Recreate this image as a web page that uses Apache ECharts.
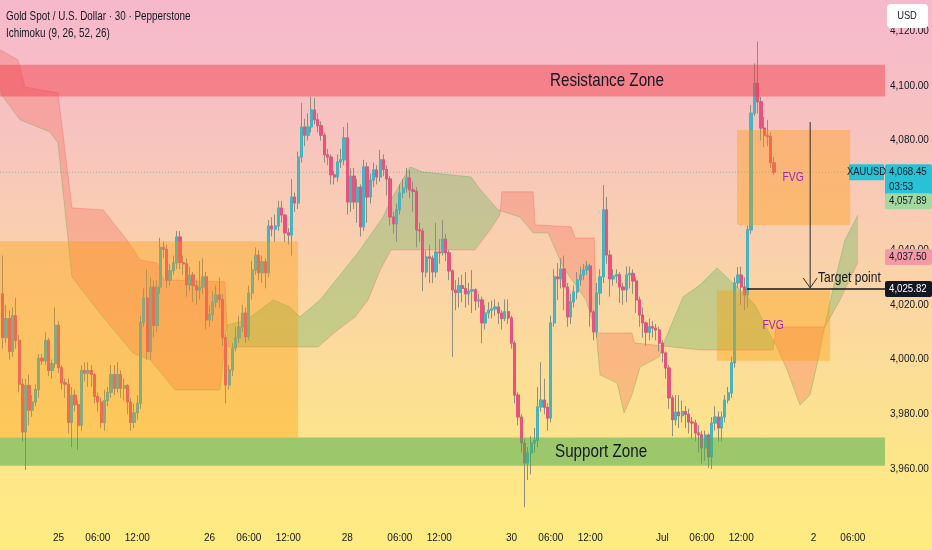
<!DOCTYPE html>
<html><head><meta charset="utf-8">
<script src="https://cdn.jsdelivr.net/npm/echarts@6/dist/echarts.min.js"></script>
<style>
html,body{margin:0;padding:0;overflow:hidden;}
#c{width:932px;height:550px;background:linear-gradient(to bottom,#f6b8cc 0%,#f7c1c2 20%,#f9cdb2 40%,#fbd99e 60%,#fde48c 80%,#ffec80 100%);}
</style></head><body><div id="c"></div>
<script>
// ---------- data ----------
const firstOpen = 4024;
const closes = [
4008,4015,4003,4016,4007,3991,3973.5,3990.5,3981.5,3984.5,
3989,4000.5,3999.5,4007,3996,3998.5,4012.5,3997,3991.5,3991,
3977,3987,3983.5,3976,3996,3995,3996,3994.5,3986.5,3984.5,
3977,3985,3988,3994.5,3989.5,3994.5,3989.5,3990.5,3984.5,3977,
3980.5,3984,4013.5,4022.5,4003,4026.5,4012.5,4026.5,4041,4040.3,
4029,4032.5,4035.3,4044.8,4035.5,4035,4027.3,4030.9,4027,4025.4,
4026.5,4030.2,4014.5,4016.5,4021,4023.6,4022,4008,3990.7,3996.2,
4004.2,4007.9,4011.9,4017,4008.3,4024.3,4032.7,4038.2,4031.7,4035.7,
4031.7,4048.8,4047.7,4048.8,4055.4,4052.8,4046.3,4045.5,4059.4,4057.2,
4074,4085,4082,4085,4091.2,4087.6,4085.5,4082,4074.8,4074,
4067.5,4066.7,4072.2,4073,4081,4057.6,4067,4057.6,4063,4048.5,
4070.4,4059.4,4065.6,4069.3,4066.7,4073,4069.5,4066,4052.1,4049.6,
4054.7,4060.9,4062.7,4066.4,4062,4061.5,4047.4,4047,4032,4037.5,
4037,4032,4039.3,4039,4044,4039,4032.4,4025.4,4024.5,4027,
4026,4024,4025,4025.5,4021.4,4021.8,4013.4,4017,4018,4018.5,
4019.2,4017,4015,4017.5,4015.2,4006,3987,3979,3969.5,3962.2,
3965.9,3969.5,3970.5,3982.7,3985.2,3982.5,3978.6,4013.4,4030.2,4029.5,
4033.1,4026.5,4015.6,4021.1,4024.7,4029.1,4030.9,4032.7,4034.2,4017.4,
4010.1,4024.3,4030.2,4054.7,4038.2,4029.5,4030.5,4031,4026.5,4025.5,
4030.9,4031.5,4028.7,4021.8,4016.3,4013.4,4010,4012,4011.5,4010.8,
4006,4002.4,3996.9,3986,3978,3980.8,3979.5,3981,3980,3977.2,
3976.8,3973.2,3972.5,3967.7,3972.4,3964.4,3976.8,3979,3975,3979,
3985.2,3987.8,3998.8,4028,4030.9,4026.5,4023.6,4047.4,4090,4101,
4094.2,4084.6,4082,4081.5,4071.9,4068.45];
const highs = [
4038,4020,4018,4019,4022.5,4009,3993,3993,3994.5,3987,
3991,4002,4002,4010,4008,4000,4019,4014,3998,3993,
3993,3990,3989,3985,3998,3999,3999,3998,3995,3988,
3986,3989,3990,3998,3998,3999,3996,3993,3991,3986,
3984,3987,4016,4026,4033,4030,4029,4029,4044.5,4043,
4042,4035,4038,4047,4047,4038,4037,4034,4032,4029,
4036,4037,4032,4020,4025,4027,4030,4024,4009,3998,
4006,4012,4016,4020,4019,4027,4036,4041,4040,4038,
4037,4051,4052,4053,4058,4058,4053,4048,4066,4061,
4076,4093.8,4088,4090,4096,4095.5,4090,4087,4083,4077,
4075,4069,4075,4077,4085,4086.5,4070,4070,4066,4064,
4073,4072,4068,4072,4071,4076.6,4075,4071,4067,4054,
4057,4064,4066,4070,4069.3,4065,4063,4050,4048,4040,
4042,4038,4050,4044,4051,4046,4040,4033,4029,4030,
4031,4032,4028,4032.7,4026,4024,4023,4020,4021,4021.5,
4022,4021,4018,4022,4022,4016,4007,3988,3980,3971,
3968,3972,3975,3990,3999,3993,3984,4016,4033,4035.3,
4037,4038,4028,4024,4027,4032,4034,4035,4036,4035,
4018,4028,4033,4063.8,4059.4,4040,4033,4033,4032,4028,
4034,4034,4033,4030,4023,4019,4014,4015,4014,4013,
4012,4007,4003,3998,3987,3987,3987,3985,3983,3982,
3979,3978,3976,3974,3974,3973,3979,3983,3981,3981,
3987,3990,4001,4030,4033.8,4034,4030,4049,4093,4108.3,
4116.2,4096,4088.7,4087.6,4083,4074];
const lows = [
4004,4006,4000,4001,4004,3988,3970,3959.6,3976,3979,
3983,3986,3998,3998,3994,3993,3997,3995,3989,3986,
3973,3968,3981,3967,3974,3992,3990,3990,3984,3981,
3975,3974,3983,3986,3987,3988,3986,3985,3980,3974,
3975,3978,3982,4012,4000,4000,4008,4010,4024,4037,
4026,4027,4031,4033,4033,4031,4023,4025,4021,4020,
4022,4024,4011,4012,4014,4019,4019,4005,3984,3989,
3994,4003,4006,4010,4006,4007,4022,4031,4029,4028,
4026,4030,4045,4043,4047,4050,4043,4042,4038,4054,
4055,4072,4078,4080,4083,4086,4083,4080,4072,4071,
4064,4064,4065,4070,4071,4053,4054,4055,4050,4045,
4047,4050,4057,4063,4064,4065,4067,4060,4049,4046,
4043,4053,4059,4061,4059,4054,4041,4043,4025,4030,
4028,4028,4030,4035,4038,4036,4029,4001,4018,4019,
4021,4019,4020,4017,4018,4019,4006,4011,4015,4015,
4016,4013,4011,4014,4013,4004,3984,3976,3966,3946,
3956,3958,3966,3968,3981,3980,3974,3977,4012,4021.8,
4026,4018,4012,4013,4019,4022,4027,4029,4031,4012,
4007,4008,4020,4028,4035,4023,4027,4028,4020.7,4020,
4021,4026,4024,4017,4012,4008,4005,4007,4008,4007,
4003,3999,3993,3982,3972,3976,3975,3977,3975,3973,
3971,3970,3966,3962,3963,3960.4,3960,3974,3970,3970,
3977,3984,3986,3997,4026,4020,4018,4019,4046,4089,
4090,4080,4077.7,4078,4070,4067.5];

// Ichimoku leading spans [bar index, price] (cloud shifted 26 bars ahead)
const spanA = [[-0.82,4099.3],[0.1,4096.0],[5.3,4087.6],[14.4,4083.2],[16.85,4079.2],[21.1,4030.2],[29.6,4017.0],[39.7,4002.4],[44.9,3999.9],[48.0,3995.5],[52.5,3988.9],[66.2,3988.9],[68.3,4012.6],[74.4,4014.5],[82.4,4021.8],[87.5,4019.2],[90.6,4015.6],[96.7,4021.8],[102.8,4030.9],[108.9,4040.1],[115.9,4052.1],[118.3,4058.3],[124.1,4070.4],[127.8,4068.6],[142.7,4066.7],[145.1,4062.7],[150.9,4054.7],[157.6,4052.1],[161.6,4046.3],[166.2,4046.3],[170.7,4033.8],[177.7,4021.8],[180.8,4009.7],[182.0,3994.4],[187.2,3991.4],[189.3,3980.5],[191.7,3987.1],[194.2,3997.3],[200.0,4001.0],[201.8,4007.2],[207.3,4022.9],[212.5,4027.3],[217.6,4033.5],[223.7,4026.5],[229.2,4020.0],[233.8,4009.0],[235.6,4005.3],[239.0,3996.2],[242.9,3983.4],[246.0,3987.1],[248.4,3999.9],[250.5,4012.6],[253.6,4029.1],[256.6,4043.7],[260.6,4052.9]];
const spanB = [[-0.82,4113.2],[4.66,4109.5],[6.8,4099.6],[16.85,4097.4],[21.1,4055.4],[30.6,4054.7],[34.2,4049.2],[37.9,4043.7],[41.8,4036.4],[47.0,4035.3],[49.1,4029.1],[67.7,4028.4],[68.7,4004.6],[96.1,4004.6],[100.9,4009.7],[107.4,4015.6],[111.3,4021.8],[115.0,4032.7],[118.3,4040.1],[143.9,4040.1],[148.5,4047.4],[151.5,4052.9],[152.1,4061.3],[161.6,4061.3],[162.2,4049.2],[173.2,4048.5],[174.4,4044.4],[180.2,4044.4],[181.1,4009.7],[191.7,4009.7],[192.4,4006.1],[212.5,4003.5],[234.7,4003.5],[235.6,4011.9],[250.5,4011.9],[255.1,4021.8],[260.6,4035.7]];

const tickIdx = [17,29,41,63,75,87,105,121,133,155,167,179,201,213,225,247,259];
const tickLabels = ['25','06:00','12:00','26','06:00','12:00','28','06:00','12:00','30','06:00','12:00','Jul','06:00','12:00','2','06:00'];
const priceTicks = [3960,3980,4000,4020,4040,4060,4080,4100,4120];

const resistanceZone = [4096.1, 4107.7];
const supportZone = [3961.2, 3971.5];
const rangeBox = [-0.82, 90.0, 3971.5, 4043.2];      // from, to, low, high
const fvgUpper = [223.7, 258.2, 4049.2, 4083.9];
const fvgLower = [217.6, 252.1, 3999.6, 4025.2];
const targetPrice = 4025.82;
const targetFrom = 226.8;
const arrowAt = [246.0, 4086.8];
const lastPrice = 4068.45;
const lead1Last = 4057.89;
const lead2Last = 4037.50;
const countdown = '03:53';

// ---------- chart ----------
const X_MIN = -0.82, X_MAX = 268.8, Y_MIN = 3939.9, Y_MAX = 4131.4;
const FONT = "'Liberation Sans',Arial,sans-serif";
const INK = '#131722';
const NARROW = 0.8;

const opens = closes.map((c, i) => i === 0 ? firstOpen : closes[i - 1]);
const ohlc = closes.map((c, i) => [i, opens[i], c, lows[i], highs[i]]);
const bodies = closes.map((c, i) => [i, opens[i], c, Math.min(opens[i], c), Math.max(opens[i], c)]);

function fmt(v) { return v.toLocaleString('en-US', {minimumFractionDigits: 2, maximumFractionDigits: 2}); }

function interpAt(line, x) {
  for (let k = 0; k < line.length - 1; k++) {
    const [x0, y0] = line[k], [x1, y1] = line[k + 1];
    if (x >= x0 && x <= x1) return x1 === x0 ? y1 : y0 + (y1 - y0) * (x - x0) / (x1 - x0);
  }
  return x < line[0][0] ? line[0][1] : line[line.length - 1][1];
}
function cloudRuns() {
  const xs = Array.from(new Set(spanA.map(d => d[0]).concat(spanB.map(d => d[0])))).sort((a, b) => a - b);
  const pts = [];
  xs.forEach((x, k) => {
    const a = interpAt(spanA, x), b = interpAt(spanB, x);
    if (k > 0) {
      const p = pts[pts.length - 1];
      const d0 = p[1] - p[2], d1 = a - b;
      if (d0 * d1 < 0) {
        const t = d0 / (d0 - d1);
        const yc = p[1] + t * (a - p[1]);
        pts.push([p[0] + t * (x - p[0]), yc, yc]);
      }
    }
    pts.push([x, a, b]);
  });
  const runs = [];
  let cur = null;
  for (let k = 0; k < pts.length - 1; k++) {
    const p = pts[k], q = pts[k + 1];
    const bull = ((p[1] - p[2]) + (q[1] - q[2])) > 0;
    if (!cur || cur.bull !== bull) { cur = {bull, pts: [p]}; runs.push(cur); }
    cur.pts.push(q);
  }
  return runs;
}
const runs = cloudRuns();

const chart = echarts.init(document.getElementById('c'));

const option = {
  animation: false,
  backgroundColor: 'transparent',
  textStyle: {fontFamily: FONT},
  grid: {left: 0, right: 47, top: 0, bottom: 26, containLabel: false, outerBoundsMode: 'none'},
  xAxis: {
    type: 'value', min: X_MIN, max: X_MAX,
    axisLine: {show: false}, axisTick: {show: false}, splitLine: {show: false},
    axisLabel: {customValues: tickIdx, formatter: v => tickLabels[tickIdx.indexOf(Math.round(v))] || '',
      color: INK, fontSize: 10, margin: 9, fontFamily: FONT}
  },
  yAxis: {
    type: 'value', position: 'right', min: Y_MIN, max: Y_MAX, scale: true,
    axisLine: {show: false}, axisTick: {show: false}, splitLine: {show: false},
    axisLabel: {customValues: priceTicks, formatter: v => fmt(v), color: INK, fontSize: 10, margin: 5, fontFamily: FONT}
  },
  series: [
    { // Ichimoku cloud
      type: 'custom', z: 1, clip: true, silent: true,
      data: [[0, 4000]],
      renderItem: (params, api) => {
        const children = [];
        runs.forEach(r => {
          const top = r.pts.map(p => api.coord([p[0], p[1]]));
          const bot = r.pts.slice().reverse().map(p => api.coord([p[0], p[2]]));
          children.push({type: 'polygon', shape: {points: top.concat(bot)},
            style: {fill: r.bull ? 'rgba(76,175,80,0.30)' : 'rgba(242,70,60,0.24)'}});
        });
        children.push({type: 'polyline', shape: {points: spanA.map(p => api.coord(p))},
          style: {stroke: 'rgba(76,175,80,0.35)', lineWidth: 1, fill: null}});
        children.push({type: 'polyline', shape: {points: spanB.map(p => api.coord(p))},
          style: {stroke: 'rgba(242,54,69,0.25)', lineWidth: 1, fill: null}});
        return {type: 'group', children};
      }
    },
    { // last price dotted line
      type: 'custom', z: 2, clip: true, silent: true,
      data: [[0, lastPrice]],
      renderItem: (params, api) => {
        const a = api.coord([X_MIN, lastPrice]), b = api.coord([X_MAX, lastPrice]);
        return {type: 'line', shape: {x1: a[0], y1: a[1], x2: b[0], y2: b[1]},
          style: {stroke: 'rgba(70,160,150,0.55)', lineWidth: 1, lineDash: [1, 2]}};
      }
    },
    { // wicks
      type: 'candlestick', z: 3, barWidth: '72%', silent: true,
      data: ohlc, encode: {x: 0, y: [1, 2, 3, 4]},
      itemStyle: {color: '#8f8d7c', color0: '#8f8d7c', borderColor: '#8f8d7c', borderColor0: '#8f8d7c', borderWidth: 1}
    },
    { // bodies
      type: 'candlestick', z: 4, barWidth: '72%', silent: true,
      data: bodies, encode: {x: 0, y: [1, 2, 3, 4]},
      itemStyle: {color: '#3fb8c6', color0: '#ee4f7e', borderColor: '#3fb8c6', borderColor0: '#ee4f7e', borderWidth: 0.8}
    },
    { // zones and boxes (drawn above price)
      type: 'custom', z: 5, clip: true, silent: true,
      data: [[0, 4000]],
      renderItem: (params, api) => {
        const rect = (x0, x1, lo, hi, fill) => {
          const p0 = api.coord([x0, hi]), p1 = api.coord([x1, lo]);
          return {type: 'rect', shape: {x: p0[0], y: p0[1], width: p1[0] - p0[0], height: p1[1] - p0[1]}, style: {fill}};
        };
        return {type: 'group', children: [
          rect(X_MIN, X_MAX, resistanceZone[0], resistanceZone[1], 'rgba(242,54,69,0.45)'),
          rect(X_MIN, X_MAX, supportZone[0], supportZone[1], 'rgba(76,175,80,0.55)'),
          rect(rangeBox[0], rangeBox[1], rangeBox[2], rangeBox[3], 'rgba(255,152,0,0.36)'),
          rect(fvgUpper[0], fvgUpper[1], fvgUpper[2], fvgUpper[3], 'rgba(255,152,0,0.36)'),
          rect(fvgLower[0], fvgLower[1], fvgLower[2], fvgLower[3], 'rgba(255,152,0,0.36)')
        ]};
      }
    },
    { // annotations
      type: 'custom', z: 6, clip: false, silent: true,
      data: [[0, 4000]],
      renderItem: (params, api) => {
        const t0 = api.coord([targetFrom, targetPrice]), t1 = api.coord([X_MAX, targetPrice]);
        const a0 = api.coord([arrowAt[0], arrowAt[1]]), a1 = api.coord([arrowAt[0], targetPrice]);
        const txt = (x, y, s, size, color, align) => ({type: 'text', x, y, scaleX: NARROW,
          style: {text: s, fill: color, fontSize: size, fontFamily: FONT, align: align || 'center', verticalAlign: 'middle'}});
        const rz = api.coord([184.1, (resistanceZone[0] + resistanceZone[1]) / 2]);
        const sz = api.coord([182.3, (supportZone[0] + supportZone[1]) / 2]);
        const fu = api.coord([240.8, 4066.4]);
        const fl = api.coord([234.7, 4012.6]);
        const tp = api.coord([248.4, 4029.8]);
        return {type: 'group', children: [
          {type: 'line', shape: {x1: t0[0], y1: t0[1], x2: t1[0], y2: t1[1]}, style: {stroke: INK, lineWidth: 1.5}},
          {type: 'line', shape: {x1: a0[0], y1: a0[1], x2: a1[0], y2: a1[1] - 1}, style: {stroke: '#2a2a2a', lineWidth: 1}},
          {type: 'polyline', shape: {points: [[a1[0] - 7, a1[1] - 11], [a1[0], a1[1] - 1], [a1[0] + 7, a1[1] - 11]]}, style: {stroke: '#2a2a2a', lineWidth: 1, fill: null}},
          txt(rz[0], rz[1], 'Resistance Zone', 19, INK),
          txt(sz[0], sz[1], 'Support Zone', 19, INK),
          txt(fu[0], fu[1], 'FVG', 13, '#9c27b0'),
          txt(fl[0], fl[1], 'FVG', 13, '#9c27b0'),
          txt(tp[0], tp[1], 'Target point', 15, INK, 'left')
        ]};
      }
    }
  ]
};
chart.setOption(option);

// price-scale labels
const gridRight = 932 - 47;
function yOf(p) { return chart.convertToPixel({yAxisIndex: 0}, p); }
function priceTag(p, bg, fg, extra) {
  const y = yOf(p);
  const h = extra ? 32 : 16;
  const els = [
    {type: 'rect', z: 100, shape: {x: gridRight, y: y - 8, width: 47, height: h, r: 2}, style: {fill: bg}},
    {type: 'text', z: 101, x: gridRight + 4, y: y, scaleX: 0.88, style: {text: fmt(p), fill: fg, fontSize: 11, fontFamily: FONT, verticalAlign: 'middle'}}
  ];
  if (extra) els.push({type: 'text', z: 101, x: gridRight + 4, y: y + 15, scaleX: 0.88, style: {text: extra, fill: fg, fontSize: 11, fontFamily: FONT, verticalAlign: 'middle'}});
  return els;
}
const yl = yOf(lastPrice);
const graphics = [
  {type: 'text', x: 6, y: 16, z: 100, scaleX: 0.76, style: {text: 'Gold Spot / U.S. Dollar · 30 · Pepperstone', fill: INK, fontSize: 13, fontFamily: FONT, verticalAlign: 'middle'}},
  {type: 'text', x: 6, y: 33, z: 100, scaleX: 0.76, style: {text: 'Ichimoku (9, 26, 52, 26)', fill: INK, fontSize: 13, fontFamily: FONT, verticalAlign: 'middle'}},
  {type: 'rect', z: 100, shape: {x: 887, y: 4, width: 41, height: 24, r: 4}, style: {fill: '#ffffff'}},
  {type: 'text', z: 101, x: 907, y: 16, scaleX: 0.85, style: {text: 'USD', fill: INK, fontSize: 11, fontFamily: FONT, align: 'center', verticalAlign: 'middle'}},
  {type: 'rect', z: 100, shape: {x: gridRight - 36, y: yl - 8, width: 35, height: 16, r: 1}, style: {fill: '#27c2d6'}},
  {type: 'text', z: 101, x: gridRight - 18.5, y: yl, scaleX: 0.85, style: {text: 'XAUUSD', fill: INK, fontSize: 11, fontFamily: FONT, align: 'center', verticalAlign: 'middle'}}
]
  .concat(priceTag(lastPrice, '#27c2d6', INK, countdown))
  .concat(priceTag(lead1Last, '#a3d9a0', INK))
  .concat(priceTag(lead2Last, '#f29aa6', INK))
  .concat(priceTag(targetPrice, '#131722', '#ffffff'));
chart.setOption({graphic: graphics});
</script>
</body></html>
